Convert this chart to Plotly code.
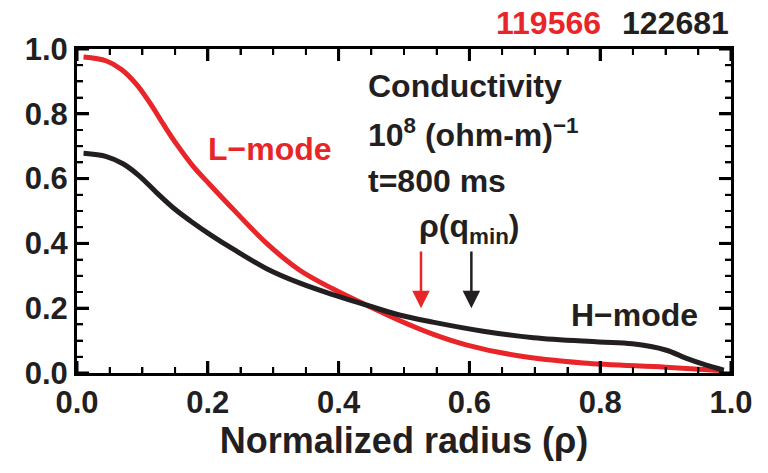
import plotly.graph_objects as go

# L-mode (shot 119566) conductivity profile
rho_L = [0.01, 0.045, 0.068, 0.091, 0.111, 0.132, 0.152, 0.178, 0.203, 0.239, 0.29, 0.34, 0.391, 0.442, 0.493, 0.544, 0.595, 0.672, 0.774, 0.9, 0.989]
sig_L = [0.975, 0.963, 0.937, 0.891, 0.835, 0.768, 0.707, 0.637, 0.582, 0.505, 0.40, 0.318, 0.26, 0.21, 0.162, 0.12, 0.087, 0.054, 0.031, 0.018, 0.007]

# H-mode (shot 122681) conductivity profile
rho_H = [0.01, 0.045, 0.071, 0.096, 0.122, 0.147, 0.173, 0.203, 0.239, 0.29, 0.34, 0.391, 0.442, 0.493, 0.544, 0.621, 0.698, 0.798, 0.849, 0.9, 0.931, 0.961, 0.989]
sig_H = [0.678, 0.668, 0.645, 0.607, 0.556, 0.51, 0.47, 0.428, 0.382, 0.322, 0.278, 0.242, 0.21, 0.179, 0.157, 0.129, 0.109, 0.096, 0.09, 0.071, 0.046, 0.025, 0.009]

# rho(q_min) arrow positions
qmin_L = 0.526
qmin_H = 0.603

tick_vals = [0.0, 0.2, 0.4, 0.6, 0.8, 1.0]
tick_text = ["<b>0.0</b>", "<b>0.2</b>", "<b>0.4</b>", "<b>0.6</b>", "<b>0.8</b>", "<b>1.0</b>"]
minor_vals = [i * 0.05 for i in range(21)]

RED = "#e8262a"
BLK = "#231f20"
FONT = "Liberation Sans, Arial, sans-serif"

fig = go.Figure()
fig.add_trace(go.Scatter(x=rho_L, y=sig_L, mode="lines", line=dict(color=RED, width=5, shape="spline", smoothing=1.0), showlegend=False))
fig.add_trace(go.Scatter(x=rho_H, y=sig_H, mode="lines", line=dict(color=BLK, width=5, shape="spline", smoothing=1.0), showlegend=False))

for upd in (fig.update_xaxes, fig.update_yaxes):
    upd(range=[0, 1.0], showline=True, linecolor="black", linewidth=3, mirror="allticks",
        ticks="inside", ticklen=12, tickwidth=3, tickcolor="black",
        tickmode="array", tickvals=tick_vals, ticktext=tick_text,
        tickfont=dict(family=FONT, size=31, color=BLK),
        gridcolor="white", zerolinecolor="white",
        minor=dict(ticks="inside", ticklen=6, tickwidth=2, tickcolor="black", tickvals=minor_vals))

fig.update_xaxes(title=dict(text="<b>Normalized radius (ρ)</b>", font=dict(family=FONT, size=36, color=BLK), standoff=4))

# inside tick marks on all four sides (major and minor), anchored to the axis values
def add_ticks(values, length, width):
    for v in values:
        # bottom and top (x axis)
        for anchor, sign in [(0, 1), (1, -1)]:
            fig.add_shape(type="line", xref="x", yref="paper", ysizemode="pixel", yanchor=anchor,
                          x0=v, x1=v, y0=0, y1=sign * length, line=dict(color="black", width=width), layer="above")
        # left and right (y axis)
        for anchor, sign in [(0, 1), (1, -1)]:
            fig.add_shape(type="line", xref="paper", yref="y", xsizemode="pixel", xanchor=anchor,
                          y0=v, y1=v, x0=0, x1=sign * length, line=dict(color="black", width=width), layer="above")

add_ticks([m for m in minor_vals if all(abs(m - t) > 1e-6 for t in tick_vals)], 6, 2)
add_ticks(tick_vals, 12, 3)

def txt(s, x, y, color=BLK, size=32, xanchor="left"):
    fig.add_annotation(x=x, y=y, xref="x", yref="y", text="<b>" + s + "</b>", showarrow=False,
                       xanchor=xanchor, yanchor="middle", font=dict(family=FONT, size=size, color=color))

txt("Conductivity", 0.442, 0.886)
txt("10<sup>8</sup> (ohm-m)<sup>−1</sup>", 0.442, 0.74)
txt("t=800 ms", 0.442, 0.594)
txt("ρ(q<sub>min</sub>)", 0.52, 0.446)
txt("L−mode", 0.198, 0.69, color=RED)
txt("H−mode", 0.752, 0.178)

for xq, col in [(qmin_L, RED), (qmin_H, BLK)]:
    fig.add_annotation(x=xq, y=0.2, ax=xq, ay=0.38, xref="x", yref="y", axref="x", ayref="y",
                       text="", showarrow=True, arrowhead=2, arrowsize=1.4, arrowwidth=2.5, arrowcolor=col)

fig.add_annotation(x=1.0, y=1.0, xref="paper", yref="paper", xanchor="right", yanchor="bottom", yshift=6,
                   showarrow=False, text="<b>122681</b>", font=dict(family=FONT, size=32, color=BLK))
fig.add_annotation(x=0.805, y=1.0, xref="paper", yref="paper", xanchor="right", yanchor="bottom", yshift=6,
                   showarrow=False, text="<b>119566</b>", font=dict(family=FONT, size=32, color=RED))

fig.update_layout(width=768, height=473, margin=dict(l=77, r=37, t=49, b=100),
                  plot_bgcolor="white", font=dict(family=FONT, color=BLK))

fig.write_html("out.html")
